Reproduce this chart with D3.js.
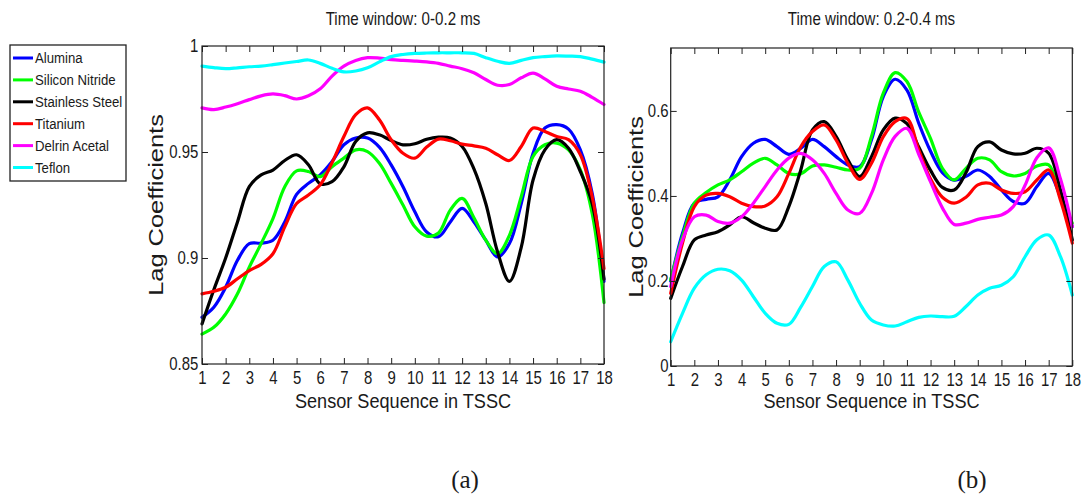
<!DOCTYPE html>
<html>
<head>
<meta charset="utf-8">
<script src="https://cdn.jsdelivr.net/npm/d3@7"></script>
<style>
  html, body { margin: 0; padding: 0; background: #fff; }
  svg { display: block; }
  text { font-family: "Liberation Sans", Arial, sans-serif; fill: #1a1a1a; }
</style>
</head>
<body>
<svg id="fig" width="1084" height="495"></svg>
<script>
// Sensor positions along the TSSC (sampled every half sensor)
const sensorPos = [1, 1.5, 2, 2.5, 3, 3.5, 4, 4.5, 5, 5.5, 6, 6.5, 7, 7.5, 8, 8.5, 9, 9.5,
  10, 10.5, 11, 11.5, 12, 12.5, 13, 13.5, 14, 14.5, 15, 15.5, 16, 16.5, 17, 17.5, 18];

const materials = ["Alumina", "Silicon Nitride", "Stainless Steel", "Titanium", "Delrin Acetal", "Teflon"];
const materialColors = ["#0000ff", "#00ff00", "#000000", "#ff0000", "#ff00ff", "#00ffff"];

const xTicks = [1, 2, 3, 4, 5, 6, 7, 8, 9, 10, 11, 12, 13, 14, 15, 16, 17, 18];
const yTicksA = [0.85, 0.9, 0.95, 1];
const yTicksB = [0, 0.2, 0.4, 0.6];

// Time window 0-0.2 ms
const aluminaA = [0.872, 0.8768, 0.8862, 0.8989, 0.9068, 0.907, 0.9084, 0.917, 0.930, 0.9352, 0.9392, 0.9455,
  0.9534, 0.9566, 0.9566, 0.9523, 0.9439, 0.9336, 0.9218, 0.9123, 0.910, 0.917, 0.9234, 0.917,
  0.9084, 0.9005, 0.9068, 0.9257, 0.9494, 0.9613, 0.9629, 0.9608, 0.951, 0.9305, 0.889];
const siliconA = [0.8641, 0.8673, 0.8736, 0.8831, 0.8957, 0.9068, 0.9186, 0.9336, 0.9411, 0.9408, 0.9384, 0.9431,
  0.9471, 0.951, 0.9502, 0.9447, 0.9352, 0.925, 0.9147, 0.9103, 0.9118, 0.9226, 0.9281, 0.919,
  0.9084, 0.902, 0.9107, 0.9289, 0.9479, 0.9534, 0.9542, 0.951, 0.9416, 0.921, 0.879];
const stainlessA = [0.8689, 0.885, 0.900, 0.917, 0.9337, 0.9392, 0.9415, 0.946, 0.9487, 0.944, 0.935, 0.936,
  0.943, 0.955, 0.959, 0.9581, 0.9554, 0.9534, 0.9539, 0.956, 0.957, 0.9566, 0.9526, 0.942,
  0.9257, 0.9028, 0.889, 0.905, 0.9368, 0.951, 0.9558, 0.9518, 0.9408, 0.9257, 0.89];
const titaniumA = [0.8831, 0.8843, 0.8862, 0.8902, 0.8941, 0.897, 0.902, 0.9147, 0.9257, 0.9297, 0.9345, 0.945,
  0.9573, 0.9676, 0.9708, 0.9652, 0.9558, 0.9494, 0.9471, 0.9523, 0.9561, 0.9553, 0.9537, 0.9529,
  0.9518, 0.9487, 0.946, 0.9526, 0.9613, 0.9597, 0.9573, 0.9558, 0.9487, 0.9289, 0.895];
const delrinA = [0.9708, 0.970, 0.9712, 0.9728, 0.9747, 0.9765, 0.9774, 0.9766, 0.975, 0.9765, 0.9798, 0.9858,
  0.9905, 0.9932, 0.9945, 0.9943, 0.9936, 0.9932, 0.9929, 0.9925, 0.9918, 0.9905, 0.9893, 0.9874,
  0.9842, 0.9815, 0.9818, 0.985, 0.9872, 0.9845, 0.981, 0.9797, 0.9787, 0.9758, 0.9724];
const teflonA = [0.9905, 0.9898, 0.9893, 0.9897, 0.9902, 0.9905, 0.9912, 0.992, 0.9927, 0.9934, 0.9918, 0.9895,
  0.9878, 0.9882, 0.9897, 0.9925, 0.995, 0.996, 0.9965, 0.9967, 0.9968, 0.9968, 0.9968, 0.9965,
  0.9945, 0.9928, 0.9918, 0.9932, 0.9945, 0.995, 0.9953, 0.9952, 0.995, 0.9938, 0.9924];

// Time window 0.2-0.4 ms
const aluminaB = [0.200, 0.312, 0.383, 0.392, 0.398, 0.438, 0.4925, 0.524, 0.533, 0.516, 0.498, 0.512,
  0.533, 0.516, 0.4925, 0.473, 0.469, 0.532, 0.634, 0.6745, 0.649, 0.571, 0.505, 0.455,
  0.437, 0.446, 0.461, 0.446, 0.414, 0.387, 0.383, 0.422, 0.453, 0.398, 0.328];
const siliconB = [0.2024, 0.304, 0.383, 0.408, 0.426, 0.438, 0.457, 0.477, 0.4886, 0.473, 0.453, 0.452,
  0.4706, 0.473, 0.4675, 0.461, 0.465, 0.54, 0.6416, 0.690, 0.669, 0.597, 0.535, 0.465,
  0.4376, 0.465, 0.4886, 0.485, 0.457, 0.447, 0.453, 0.4706, 0.473, 0.398, 0.336];
const stainlessB = [0.159, 0.234, 0.2965, 0.308, 0.316, 0.332, 0.351, 0.337, 0.324, 0.32, 0.375, 0.46,
  0.5553, 0.575, 0.54, 0.485, 0.4455, 0.4925, 0.5553, 0.583, 0.57, 0.515, 0.46, 0.42,
  0.414, 0.455, 0.516, 0.527, 0.508, 0.4988, 0.5004, 0.5122, 0.5004, 0.414, 0.2965];
const titaniumB = [0.171, 0.289, 0.375, 0.402, 0.406, 0.398, 0.383, 0.375, 0.3765, 0.398, 0.453, 0.515,
  0.5514, 0.567, 0.532, 0.477, 0.439, 0.477, 0.5396, 0.575, 0.582, 0.508, 0.44, 0.397,
  0.383, 0.397, 0.4259, 0.4298, 0.414, 0.406, 0.41, 0.4376, 0.4612, 0.39, 0.289];
const delrinB = [0.187, 0.2965, 0.351, 0.355, 0.34, 0.336, 0.351, 0.383, 0.422, 0.461, 0.489, 0.500,
  0.485, 0.453, 0.406, 0.367, 0.359, 0.406, 0.485, 0.54, 0.559, 0.498, 0.433, 0.372,
  0.333, 0.336, 0.345, 0.35, 0.355, 0.375, 0.425, 0.49, 0.513, 0.44, 0.328];
const teflonB = [0.057, 0.124, 0.183, 0.2145, 0.2275, 0.224, 0.202, 0.163, 0.124, 0.1004, 0.098, 0.138,
  0.187, 0.234, 0.245, 0.202, 0.1475, 0.108, 0.0965, 0.094, 0.104, 0.1145, 0.1176, 0.116,
  0.117, 0.14, 0.167, 0.183, 0.19, 0.21, 0.257, 0.297, 0.308, 0.257, 0.167];

const seriesA = [aluminaA, siliconA, stainlessA, titaniumA, delrinA, teflonA];
const seriesB = [aluminaB, siliconB, stainlessB, titaniumB, delrinB, teflonB];

const svg = d3.select("#fig");
const TEXT_SX = 0.83;   // horizontal squeeze applied to tick labels

function drawPanel(cfg) {
  const x = d3.scaleLinear().domain([1, 18]).range([cfg.left, cfg.right]);
  const y = d3.scaleLinear().domain(cfg.yDomain).range([cfg.bottom, cfg.top]);
  const g = svg.append("g");

  // curves
  const line = d3.line()
    .x((d, i) => x(sensorPos[i]))
    .y(d => y(d))
    .curve(d3.curveCatmullRom.alpha(0.5));
  cfg.series.forEach((vals, k) => {
    g.append("path")
      .attr("d", line(vals))
      .attr("fill", "none")
      .attr("stroke", materialColors[k])
      .attr("stroke-width", 3.2)
      .attr("stroke-linejoin", "round")
      .attr("stroke-linecap", "round");
  });

  // axes with inward ticks
  const bottom = g.append("g").attr("transform", `translate(0,${cfg.bottom})`)
    .call(d3.axisBottom(x).tickValues(xTicks).tickFormat(d3.format("d"))
      .tickSizeInner(-6).tickSizeOuter(0).tickPadding(7));
  const top = g.append("g").attr("transform", `translate(0,${cfg.top})`)
    .call(d3.axisTop(x).tickValues(xTicks).tickFormat("").tickSizeInner(-6).tickSizeOuter(0));
  const leftAx = g.append("g").attr("transform", `translate(${cfg.left},0)`)
    .call(d3.axisLeft(y).tickValues(cfg.yTicks).tickFormat(cfg.yFormat)
      .tickSizeInner(-6).tickSizeOuter(0).tickPadding(cfg.yPad));
  const rightAx = g.append("g").attr("transform", `translate(${cfg.right},0)`)
    .call(d3.axisRight(y).tickValues(cfg.yTicks).tickFormat("").tickSizeInner(-6).tickSizeOuter(0));

  [bottom, top, leftAx, rightAx].forEach(a => {
    a.select(".domain").remove();
    a.selectAll(".tick line").attr("stroke", "#222").attr("stroke-width", 1);
  });
  [bottom, leftAx].forEach(a => {
    a.selectAll(".tick text")
      .attr("font-size", 18)
      .attr("font-family", "Liberation Sans, Arial, sans-serif")
      .attr("fill", "#1a1a1a")
      .attr("transform", `scale(${TEXT_SX},1)`);
  });

  // frame
  g.append("rect")
    .attr("x", cfg.left).attr("y", cfg.top)
    .attr("width", cfg.right - cfg.left).attr("height", cfg.bottom - cfg.top)
    .attr("fill", "none").attr("stroke", "#222").attr("stroke-width", 1.2);

  const cx = (cfg.left + cfg.right) / 2;
  // title
  g.append("text")
    .attr("transform", `translate(${cx},25) scale(0.84,1)`)
    .attr("text-anchor", "middle").attr("font-size", 18)
    .text(cfg.title);
  // x label
  g.append("text")
    .attr("transform", `translate(${cx},408) scale(0.93,1)`)
    .attr("text-anchor", "middle").attr("font-size", 19.5)
    .text("Sensor Sequence in TSSC");
  // y label
  g.append("text")
    .attr("transform", `translate(${cfg.yLabelX},${(cfg.top + cfg.bottom) / 2}) rotate(-90) scale(1.27,1)`)
    .attr("text-anchor", "middle").attr("font-size", 20)
    .text("Lag Coefficients");
  // panel tag
  g.append("text")
    .attr("x", cfg.tagX).attr("y", 488)
    .attr("text-anchor", "middle")
    .attr("font-size", 25)
    .style("font-family", "'Liberation Serif', 'Times New Roman', serif")
    .text(cfg.tag);
}

drawPanel({
  left: 202, right: 604, top: 46, bottom: 364,
  yDomain: [0.85, 1], yTicks: yTicksA, yFormat: d => d3.format("")(d), yPad: 4.5,
  series: seriesA, title: "Time window: 0-0.2 ms", yLabelX: 163, tag: "(a)", tagX: 465
});
drawPanel({
  left: 670.7, right: 1072.3, top: 48, bottom: 366,
  yDomain: [0, 0.748], yTicks: yTicksB, yFormat: d => d3.format("")(d), yPad: 2.5,
  series: seriesB, title: "Time window: 0.2-0.4 ms", yLabelX: 643, tag: "(b)", tagX: 972
});

// legend
const legend = svg.append("g");
legend.append("rect")
  .attr("x", 10).attr("y", 45).attr("width", 116).attr("height", 136)
  .attr("fill", "#fff").attr("stroke", "#222").attr("stroke-width", 1.3);
const legendY = d3.scalePoint().domain(materials).range([58, 167.5]);
materials.forEach((m, k) => {
  const yy = legendY(m);
  legend.append("line")
    .attr("x1", 13).attr("x2", 33).attr("y1", yy).attr("y2", yy)
    .attr("stroke", materialColors[k]).attr("stroke-width", 3);
  legend.append("text")
    .attr("transform", `translate(35,${yy}) scale(0.91,1)`)
    .attr("dy", "0.36em").attr("font-size", 14.5)
    .text(m);
});
</script>
</body>
</html>
